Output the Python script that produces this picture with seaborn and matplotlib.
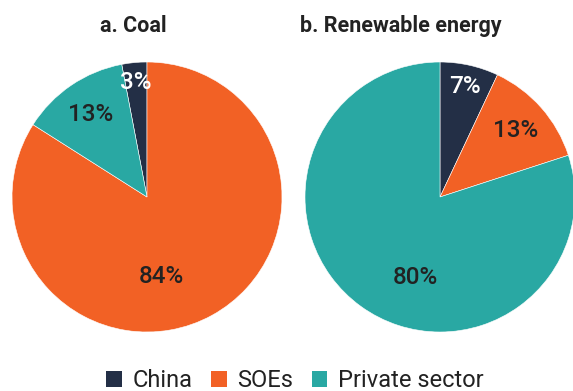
import numpy as np
import seaborn as sns
import matplotlib.pyplot as plt
from matplotlib.patches import Patch

# data
groups = ["China", "SOEs", "Private sector"]
coal_share = [3, 84, 13]
renew_share = [7, 13, 80]
titles = ["a. Coal", "b. Renewable energy"]

colors = ["#232f46", "#f26125", "#29a8a3"]
text_colors = ["white", "#222222", "#222222"]

sns.set_theme(style="white")
plt.rcParams['font.family'] = ['Roboto', 'DejaVu Sans']

fig = plt.figure(figsize=(5.73, 3.91), dpi=100)
W, H = 573, 391

# pie centres / radius in px
r = 135
ax1 = fig.add_axes([(147 - r) / W, (H - 197 - r) / H, 2 * r / W, 2 * r / H])
ax2 = fig.add_axes([(440 - r) / W, (H - 197 - r) / H, 2 * r / W, 2 * r / H])

# label placement: distance from centre + optional angle override for the big slice
label_dist = {0: [0.85, 0.6, 0.74], 1: [0.84, 0.75, 0.62]}
label_angle = {0: {1: -80}, 1: {2: -107}}
start = {0: 90 + coal_share[0] * 3.6, 1: 90}
title_x = [133, 401]

for i, (ax, vals) in enumerate([(ax1, coal_share), (ax2, renew_share)]):
    wedges, _ = ax.pie(vals, colors=colors, startangle=start[i], counterclock=False,
                       radius=1, wedgeprops=dict(edgecolor="white", linewidth=0.4))
    for j, w in enumerate(wedges):
        ang = (w.theta1 + w.theta2) / 2
        ang = label_angle[i].get(j, ang)
        d = label_dist[i][j]
        x, y = d * np.cos(np.radians(ang)), d * np.sin(np.radians(ang))
        ax.text(x, y, f"{vals[j]}%", ha="center", va="center", fontsize=17.5,
                color=text_colors[j], fontweight="medium")
    ax.set_xlim(-1, 1); ax.set_ylim(-1, 1)
    ax.set_aspect("equal")
    ax.axis("off")
    fig.text(title_x[i] / W, 1 - 32 / H, titles[i], ha="center", va="baseline",
             fontsize=15.5, fontweight="bold", color="#222222")

handles = [Patch(facecolor=c, edgecolor="none") for c in colors]
fig.legend(handles, groups, loc="center", bbox_to_anchor=(295 / W, 1 - 380.5 / H), ncol=3,
           frameon=False, fontsize=17, handlelength=0.65, handleheight=0.65,
           handletextpad=0.45, columnspacing=0.8, labelcolor="#222222",
           borderpad=0.1)

fig.savefig("out.png", dpi=100)
